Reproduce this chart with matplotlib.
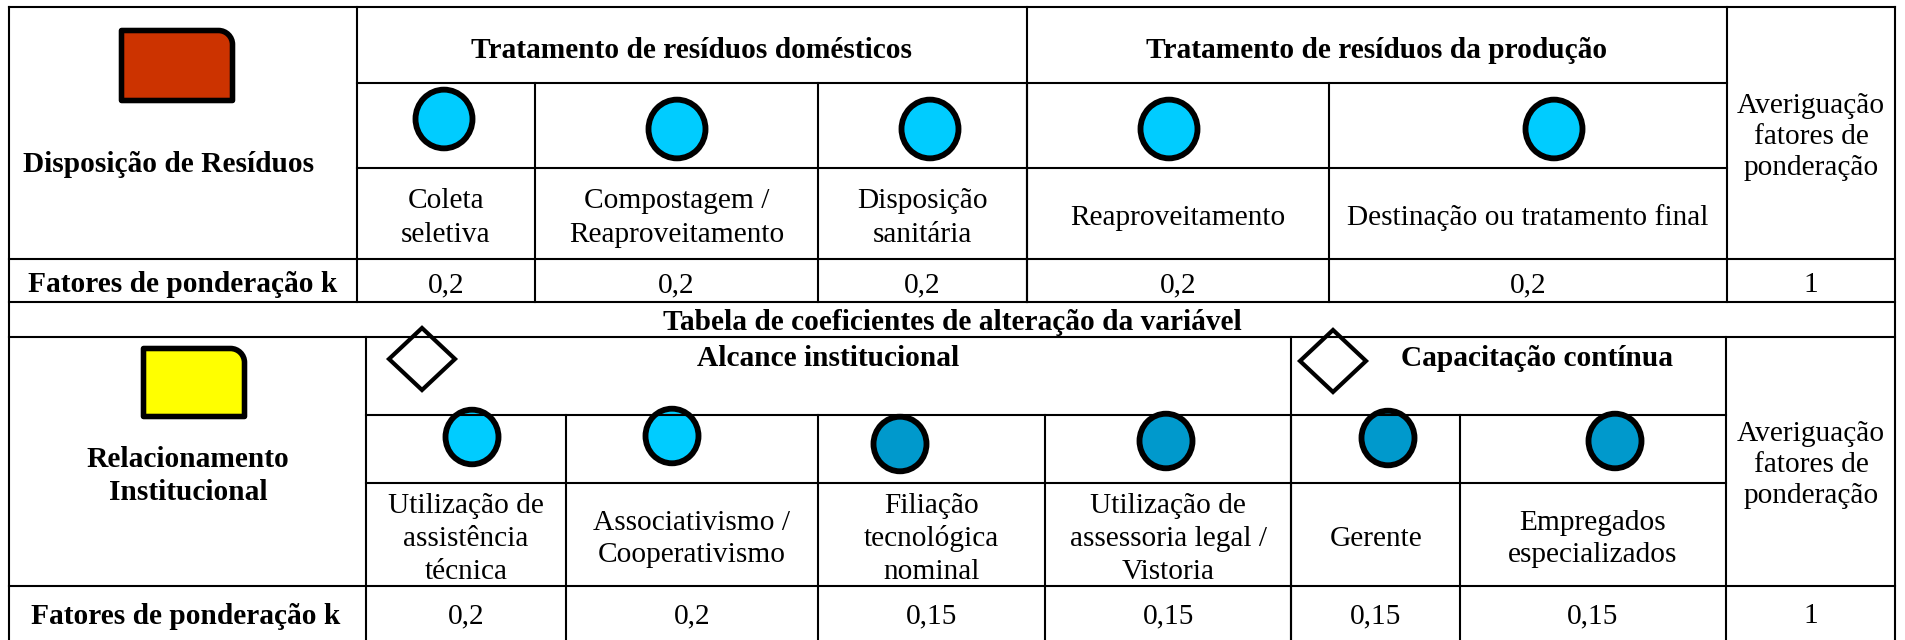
import matplotlib
matplotlib.use("Agg")
import matplotlib.pyplot as plt
from matplotlib.patches import Ellipse, Polygon, PathPatch
from matplotlib.path import Path

plt.rcParams['font.family'] = ['Liberation Serif', 'DejaVu Serif']

# ---------------- data ----------------
top_title = "Disposição de Resíduos"
top_groups = ["Tratamento de resíduos domésticos", "Tratamento de resíduos da produção"]
top_items = ["Coleta\nseletiva", "Compostagem /\nReaproveitamento", "Disposição\nsanitária",
             "Reaproveitamento", "Destinação ou tratamento final"]
top_k = [0.2, 0.2, 0.2, 0.2, 0.2]
top_total = 1
top_circle_shade = ["light", "light", "light", "light", "light"]

middle_title = "Tabela de coeficientes de alteração da variável"

bot_title = "Relacionamento\nInstitucional"
bot_groups = ["Alcance institucional", "Capacitação contínua"]
bot_items = ["Utilização de\nassistência\ntécnica", "Associativismo /\nCooperativismo",
             "Filiação\ntecnológica\nnominal", "Utilização de\nassessoria legal /\nVistoria",
             "Gerente", "Empregados\nespecializados"]
bot_k = [0.2, 0.2, 0.15, 0.15, 0.15, 0.15]
bot_total = 1
bot_circle_shade = ["light", "light", "dark", "dark", "dark", "dark"]

k_label = "Fatores de ponderação k"
check_label = "Averiguação\nfatores de\nponderação"

# ---------------- styles ----------------
W, H = 1906, 640
COL = {"light": "#00CCFF", "dark": "#0099CC"}
RED = "#CC3300"
YEL = "#FFFF00"
LW = 1.5
FS = 21.2

fig = plt.figure(figsize=(W / 100, H / 100), dpi=100)
ax = fig.add_axes([0, 0, 1, 1])
ax.set_xlim(0, W)
ax.set_ylim(H, 0)
ax.axis("off")


def hl(y, x0, x1):
    ax.plot([x0, x1], [y, y], color="black", lw=LW, solid_capstyle="projecting")


def vl(x, y0, y1):
    ax.plot([x, x], [y0, y1], color="black", lw=LW, solid_capstyle="projecting")


def fmt(v):
    return ("%g" % v).replace(".", ",")


def multiline(x, yc, text, bold=False, spacing=33, size=FS):
    lines = text.split("\n")
    n = len(lines)
    for i, ln in enumerate(lines):
        y = yc + (i - (n - 1) / 2) * spacing
        ax.text(x, y, ln, ha="center", va="center_baseline", fontsize=size,
                fontweight="bold" if bold else "normal")


def circle(x, y, d, shade):
    ax.add_patch(Ellipse((x, y), d, d * 1.03, facecolor=COL[shade], edgecolor="black", lw=4.2))


def diamond(x, y):
    hw, hh = 33, 31
    ax.add_patch(Polygon([(x, y - hh), (x + hw, y), (x, y + hh), (x - hw, y)], closed=True,
                         facecolor="white", edgecolor="black", lw=3.0, joinstyle="miter"))


def round_tr_rect(x0, y0, x1, y1, r, color):
    k = 0.5523 * r
    verts = [(x0, y1), (x0, y0), (x1 - r, y0), (x1 - r + k, y0), (x1, y0 + r - k), (x1, y0 + r),
             (x1, y1), (x0, y1)]
    codes = [Path.MOVETO, Path.LINETO, Path.LINETO, Path.CURVE4, Path.CURVE4, Path.CURVE4,
             Path.LINETO, Path.CLOSEPOLY]
    ax.add_patch(PathPatch(Path(verts, codes), facecolor=color, edgecolor="black", lw=4.0,
                           joinstyle="round"))


# ---------------- top table ----------------
L, R = 9, 1895
t_top, t_hdr, t_circ, t_lab, t_k = 7, 83, 168, 259, 302
t_cols = [357, 535, 818, 1027, 1329, 1727]
t_split = 1027

hl(t_top, L, R)
vl(L, t_top, H + 5)
vl(R, t_top, H + 5)
for x in [t_cols[0], t_split, t_cols[-1]]:
    vl(x, t_top, t_k)
for x in t_cols[1:-1]:
    vl(x, t_hdr, t_k)
hl(t_hdr, t_cols[0], t_cols[-1])
hl(t_circ, t_cols[0], t_cols[-1])
hl(t_lab, L, R)
hl(t_k, L, R)

round_tr_rect(121.5, 30.5, 232.5, 100.5, 14, RED)
ax.text(169, 162, top_title, ha="center", va="center_baseline", fontsize=FS, fontweight="bold")

ax.text((t_cols[0] + t_split) / 2, 47, top_groups[0], ha="center", va="center_baseline",
        fontsize=FS, fontweight="bold")
ax.text((t_split + t_cols[-1]) / 2, 47, top_groups[1], ha="center", va="center_baseline",
        fontsize=FS, fontweight="bold")

top_circ_pos = [(444, 119), (677, 129), (930, 129), (1169, 129), (1554, 129)]
for i, item in enumerate(top_items):
    xc = (t_cols[i] + t_cols[i + 1]) / 2
    multiline(xc, 215, item, spacing=34)
    cx, cy = top_circ_pos[i]
    circle(cx, cy, 57, top_circle_shade[i])
    ax.text(xc, 282, fmt(top_k[i]), ha="center", va="center_baseline", fontsize=FS)

xa = (t_cols[-1] + R) / 2
multiline(xa, 134, check_label, spacing=31)
ax.text(xa, 282, fmt(top_total), ha="center", va="center_baseline", fontsize=FS)
ax.text(183, 282, k_label, ha="center", va="center_baseline", fontsize=FS, fontweight="bold")

# ---------------- middle row ----------------
ax.text(952, 320, middle_title, ha="center", va="center_baseline", fontsize=FS, fontweight="bold")

# ---------------- bottom table ----------------
b_top, b_hdr, b_circ, b_lab = 337, 415, 483, 586
b_cols = [366, 566, 818, 1045, 1291.5, 1460, 1726]
b_split = 1291.5

hl(b_top, L, R)
for x in [b_cols[0], b_split, b_cols[-1]]:
    vl(x, b_top, H + 5)
for x in b_cols[1:-1]:
    vl(x, b_hdr, H + 5)
hl(b_hdr, b_cols[0], b_cols[-1])
hl(b_circ, b_cols[0], b_cols[-1])
hl(b_lab, L, R)

round_tr_rect(143.5, 348.5, 244.5, 416.5, 14, YEL)
multiline(188, 473, bot_title, bold=True, spacing=33)

diamond(422, 359)
diamond(1333, 361)
ax.text(828, 355, bot_groups[0], ha="center", va="center_baseline", fontsize=FS, fontweight="bold")
ax.text(1537, 355, bot_groups[1], ha="center", va="center_baseline", fontsize=FS, fontweight="bold")

bot_circ_pos = [(472, 437), (672, 436), (900, 444), (1166, 441), (1388, 438), (1615, 441)]
for i, item in enumerate(bot_items):
    xc = (b_cols[i] + b_cols[i + 1]) / 2
    multiline(xc, 536, item, spacing=33)
    cx, cy = bot_circ_pos[i]
    circle(cx, cy, 53, bot_circle_shade[i])
    ax.text(xc, 613, fmt(bot_k[i]), ha="center", va="center_baseline", fontsize=FS)

multiline(xa, 462, check_label, spacing=31)
ax.text(xa, 613, fmt(bot_total), ha="center", va="center_baseline", fontsize=FS)
ax.text(186, 613, k_label, ha="center", va="center_baseline", fontsize=FS, fontweight="bold")

fig.savefig("out.png", dpi=100)
